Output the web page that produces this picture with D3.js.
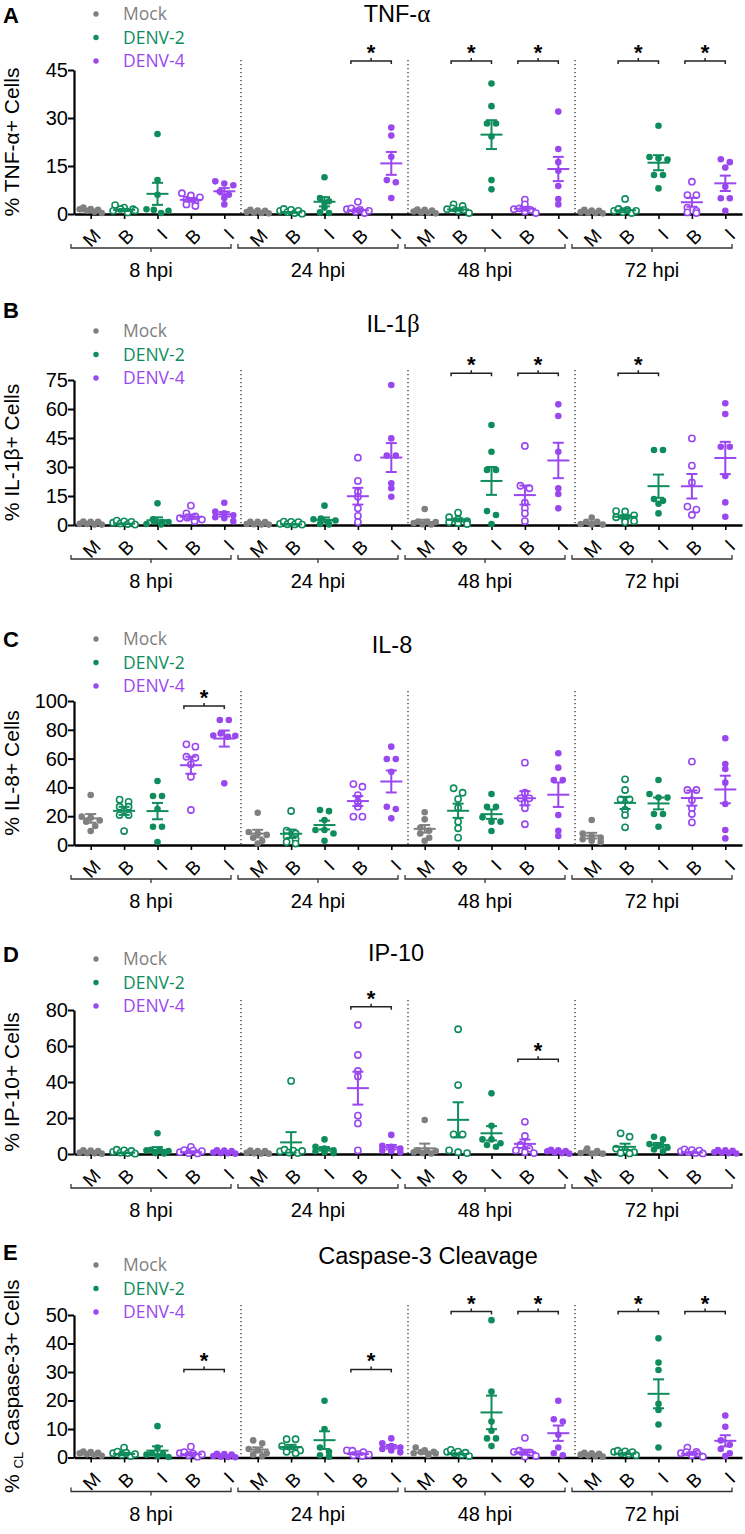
<!DOCTYPE html>
<html><head><meta charset="utf-8">
<script src="https://cdn.jsdelivr.net/npm/d3@7"></script>
<style>body{margin:0;background:#fff} svg{display:block}</style>
</head><body><svg id="c" width="745" height="1534"></svg>
<script>
// ---------------- DATA ----------------
const timepoints = ["8 hpi","24 hpi","48 hpi","72 hpi"];
const catLabels = ["M","B","I","B","I"];
const catSeries = ["Mock","DENV-2","DENV-2","DENV-4","DENV-4"];
const catOpen = [false,true,false,true,false];
const legendLabels = ["Mock","DENV-2","DENV-4"];
const panelLetters = ["A","B","C","D","E"];

const tnfTicks = [0,15,30,45];
const il1bTicks = [0,15,30,45,60,75];
const il8Ticks = [0,20,40,60,80,100];
const ip10Ticks = [0,20,40,60,80];
const casp3Ticks = [0,10,20,30,40,50];

const tnfValues = [
[0.3,0.5,0.8,1,1.2,1.5,0.7],[0.3,0.5,1,1.5,2,2.8,0.8],[25,10.6,6,0.5,0.3,0.2,1.5],[6.5,5.8,5.2,4.5,3.5,3,2.5],[10.2,9.5,9,7,6,5,3],
[0.2,0.3,0.5,0.4,0.6,0.3,0.2],[0.1,0.3,0.5,0.8,1,0.2,0.6],[11.5,5,4,3.5,2,0.5,0.3],[3.8,1.5,1,0.8,0.5,0.3,0.2],[27,24.5,17.9,10.6,9.9,5],
[0.3,0.5,0.8,0.4,0.6,0.2,0.5],[3,2.5,1.5,1,1,0.5,0.3],[40.8,33.7,28.3,28.3,24.2,10.6,7.7],[4.5,3,1.5,1,0.5,0.3,0.8],[32,20.3,16.2,13.5,8.75,4.7,3],
[0.2,0.4,0.3,0.5,0.6,0.2,0.3],[4.7,1,0.8,0.5,0.6,0.3,0.2],[27.6,17.8,17.4,17,12.2,12.2,8],[10.1,5.9,5.9,2,1,0.5,0.3],[17.1,16.2,14.5,8.5,4.9,4.9,1]
];
const il1bValues = [
[0.3,0.5,0.2,0.4,0.6,0.3,0.5],[0.5,1,0.3,0.8,0.6,0.2,1.2],[11.2,3,1.5,0.5,0.3,0.2,0.5],[10,6,4.5,3.5,2.5,2,1.5],[11.5,6.9,6,5,4,3.5,2],
[0.2,0.4,0.3,0.5,0.3,0.2,0.4],[0.2,0.3,0.5,0.4,0.6,0.3,0.2],[10,3,2,1.5,1,0.5,0.3],[34.8,22.8,17.2,14.6,8.6,4.7,1.5],[72.4,44.8,35.9,35.9,21.6,19,14.6],
[8.3,1,0.5,0.3,0.2,0.3,0.4],[6.4,4,3,2,1.5,1,0.5],[51.7,37.9,28.5,28.5,7.2,5.2,0.5],[40.9,20.3,19,11.5,8.6,6,2],[62.4,56.4,37.9,19,16,8.6],
[3.8,0.5,0.3,0.2,0.4,0.3],[7.2,7,5,4,3,2,1.5],[38.8,38.8,13.4,12.5,11,6],[44.8,30.7,22,9.5,8,5.2],[63,57.4,40.5,40.5,25.3,11.7,4.3]
];
const il8Values = [
[34.7,19.7,19,17,16.2,13.2,9.7],[31.5,30,26.6,26.6,20.8,20.8,9.7],[44.4,34,34,25,12.7,12.7,2],[69.9,68.3,61.3,60.6,56,47.4,24.3],[86.8,86.8,76,75.7,75.2,74.1,42.8],
[22.4,9,8,7,5,3,1],[23.6,10,8,6,4,2,1],[24.3,23.5,17.4,10.4,10.4,8,3],[42.3,40.5,34.7,30,26.6,19.7,19.7],[68.3,59.7,59.7,50.9,26.6,25,18.5],
[22.7,17.8,12,10,8,5,3],[39.4,36.3,31.9,25.9,16.2,11.6,5.1],[35.4,26.6,26.6,19.2,16.2,16.2,9.7],[57.2,36.3,32.4,32.4,29,25.5,14.4],[63.7,53.7,45.1,45.1,20.8,9.9,6.2],
[17.4,8,6,5,4,3,2],[45.6,38.2,31.7,31.7,24.3,20.8,12.3],[45.1,35.4,32.9,32.9,21.5,21.5,12.7],[57.9,38.2,38.2,31.2,25.5,21.5,15.7],[74.1,56.2,52.8,43.3,28.5,10.4,4.6]
];
const ip10Values = [
[0.5,0.3,0.8,0.4,0.6,0.2,0.5],[0.5,1,0.3,0.8,0.6,0.2,1.2],[11.5,2,1,0.5,0.3,0.2,0.5],[4,1,0.5,0.3,0.5,0.2,0.8],[0.5,0.8,0.3,0.6,0.4,0.2,0.5],
[0.3,0.5,0.2,0.4,0.6,0.3,0.2],[40.6,1.5,1,0.5,0.3,0.5,0.8],[8.1,4,3,2,1.5,1,0.5],[71.7,55,46.1,43,21.3,17,2],[10.6,4.5,4,3,2,1.5,1],
[18.9,1,0.5,0.3,0.5,0.2,0.6],[69.3,38.3,10.9,10.9,2,1,0.5],[33.7,15.7,8.1,8.1,6,5,4],[17.9,10,5,3,2,1,0.5],[1.5,1,0.8,0.5,0.3,0.2,0.6],
[3,0.5,0.3,0.2,0.4,0.6,0.3],[11.5,9.6,3,2,1,0.5,0.3],[9.6,8.1,5.5,4.5,3.5,2.5,1.5],[1.5,1,0.8,0.5,0.6,0.3,1.2],[1,0.8,0.5,0.6,0.3,0.4,0.7]
];
const casp3Values = [
[1,1.5,0.8,1.2,0.6,0.9,1.1],[3.5,1.5,1,0.8,0.5,0.3,1.2],[11,3.5,1,0.5,0.3,0.2,0.5],[3.8,1.5,1,0.5,0.3,0.2,0.8],[0.3,0.5,0.2,0.4,0.1,0.3,0.2],
[6,5,3,2.5,1.5,1,0.5],[6.4,6.4,4,3,2.5,2,1.5],[19.9,10,3.5,2,0.8,0.3],[2.5,1.5,1,1,0.8,0.5,1.2],[6.7,5,4,3.5,3,2.5,1.8],
[3.5,2.5,2,1.5,1,0.8,0.5],[2,1.8,1.5,1.2,1,0.8,0.5],[48.2,23.1,12.6,9.4,6.7,6.7,4],[6.9,2,1.5,1,0.8,0.5,0.3],[19.9,13.4,12.6,8,3.5,1.5,0.8],
[1,0.8,0.5,0.6,0.4,0.3,0.7],[2,1.5,1.2,1,0.8,1.3,1.5],[41.8,33.3,30.7,18.8,16.7,11.6,3.5],[3.5,2,1.5,1,0.8,0.5,0.3],[14.7,10.8,6,4.5,3,1.5,0.5]
];

// significance brackets: category index pairs and bracket level (in axis units)
const tnfSigPairs = [[8,9],[11,12],[13,14],[16,17],[18,19]];
const tnfSigLevels = [47.8,47.8,47.8,47.8,47.8];
const il1bSigPairs = [[11,12],[13,14],[16,17]];
const il1bSigLevels = [78.5,78.5,78.5];
const il8SigPairs = [[3,4]];
const il8SigLevels = [96.5];
const ip10SigPairs = [[8,9],[13,14]];
const ip10SigLevels = [81.8,52.6];
const casp3SigPairs = [[3,4],[8,9],[11,12],[13,14],[16,17],[18,19]];
const casp3SigLevels = [30.9,30.9,51.2,51.2,51.2,51.2];

// ---------------- LAYOUT / STYLE ----------------
const colors = {"Mock":"#808080","DENV-2":"#0f8c5c","DENV-4":"#9a47f0"};
const SANS = "'Liberation Sans', Arial, sans-serif";
const LEG = "'Open Sans', sans-serif";

const panels = [
  {values:tnfValues, ticks:tnfTicks, sigP:tnfSigPairs, sigL:tnfSigLevels, top:70, bottom:214,
   letterY:23, titleY:22, titleX:397, legendY:14, title:["TNF-","α"], ylab:"tnf"},
  {values:il1bValues, ticks:il1bTicks, sigP:il1bSigPairs, sigL:il1bSigLevels, top:380, bottom:525,
   letterY:318, titleY:332, titleX:393, legendY:331, title:["IL-1","β"], ylab:"il1b"},
  {values:il8Values, ticks:il8Ticks, sigP:il8SigPairs, sigL:il8SigLevels, top:701, bottom:845,
   letterY:647, titleY:653, titleX:392, legendY:639, title:["IL-8",""], ylab:"il8"},
  {values:ip10Values, ticks:ip10Ticks, sigP:ip10SigPairs, sigL:ip10SigLevels, top:1010, bottom:1154,
   letterY:962, titleY:961, titleX:396, legendY:959, title:["IP-10",""], ylab:"ip10"},
  {values:casp3Values, ticks:casp3Ticks, sigP:casp3SigPairs, sigL:casp3SigLevels, top:1315, bottom:1457.5,
   letterY:1260, titleY:1264, titleX:428, legendY:1265, title:["Caspase-3 Cleavage",""], ylab:"casp"}
];

const svg = d3.select("#c");
const nCat = 20;
const x = d3.scalePoint().domain(d3.range(nCat)).range([74, 742]).padding(0.5);
const step = x.step();

panels.forEach((p, pi) => {
  const g = svg.append("g");
  const yMax = d3.max(p.ticks);
  const y = d3.scaleLinear().domain([0, yMax]).range([p.bottom, p.top]);

  // panel letter
  g.append("text").attr("x", 3).attr("y", p.letterY).attr("font-family", SANS)
    .attr("font-weight", "bold").attr("font-size", 22).text(panelLetters[pi]);

  // title
  const t = g.append("text").attr("x", p.titleX).attr("y", p.titleY).attr("text-anchor", "middle")
    .attr("font-family", SANS).attr("font-size", 23.5);
  t.append("tspan").text(p.title[0]);
  if (p.title[1]) t.append("tspan").attr("font-family", "'Liberation Serif', serif").attr("font-size", 25).text(p.title[1]);

  // legend
  legendLabels.forEach((l, li) => {
    const ly = p.legendY + li * 23.5;
    g.append("circle").attr("cx", 96).attr("cy", ly).attr("r", 2.7).attr("fill", colors[l]);
    g.append("text").attr("x", 123).attr("y", ly).attr("dy", "0.35em").attr("font-family", LEG)
      .attr("font-size", 17.5).attr("fill", colors[l]).text(l);
  });

  // y axis label
  const yl = g.append("text").attr("transform", `translate(19,${(p.top + p.bottom) / 2}) rotate(-90)`)
    .attr("text-anchor", "middle").attr("font-family", SANS).attr("font-size", 21);
  if (p.ylab === "tnf") { yl.append("tspan").text("% TNF-α+ Cells"); }
  else if (p.ylab === "il1b") { yl.append("tspan").text("% IL-1β+ Cells"); }
  else if (p.ylab === "il8") { yl.append("tspan").text("% IL-8+ Cells"); }
  else if (p.ylab === "ip10") { yl.append("tspan").text("% IP-10+ Cells"); }
  else {
    yl.append("tspan").text("% ");
    yl.append("tspan").attr("font-size", 13).attr("dy", 4).text("CL");
    yl.append("tspan").attr("dy", -4).text(" Caspase-3+ Cells");
  }

  // dotted separators
  [5, 10, 15].forEach(k => {
    const sx = x(k) - step / 2;
    g.append("line").attr("x1", sx).attr("x2", sx).attr("y1", p.top - 10).attr("y2", p.bottom)
      .attr("stroke", "#333").attr("stroke-width", 1.3).attr("stroke-dasharray", "1.3,2.7");
  });

  // axes
  const ya = g.append("g").attr("transform", "translate(74,0)")
    .call(d3.axisLeft(y).tickValues(p.ticks).tickSize(6).tickSizeOuter(0).tickPadding(0));
  ya.select(".domain").attr("stroke-width", 2.2);
  ya.selectAll(".tick line").attr("stroke-width", 2);
  ya.selectAll(".tick text").attr("font-family", SANS).attr("font-size", 20).attr("fill", "#000");

  const xa = g.append("g").attr("transform", `translate(0,${p.bottom})`)
    .call(d3.axisBottom(x).tickSize(5).tickSizeOuter(0).tickFormat(i => catLabels[i % 5]));
  xa.select(".domain").attr("stroke-width", 2.6);
  xa.selectAll(".tick line").attr("stroke-width", 1.6);
  xa.selectAll(".tick text").attr("font-family", SANS).attr("font-size", 19).attr("fill", "#000")
    .attr("x", 0).attr("y", 0).attr("dy", "0.35em").attr("text-anchor", "end")
    .attr("transform", "translate(6,18) rotate(-45)");

  // group brackets and labels
  timepoints.forEach((tp, ti) => {
    const x1 = x(ti * 5) - step / 2 - 3;
    const x2 = x(ti * 5 + 4) + step / 2 - 10;
    const by = p.bottom + 34;
    g.append("path").attr("d", `M${x1},${by - 4}V${by}H${x2}V${by - 4}M${(x1 + x2) / 2},${by}V${by + 4}`)
      .attr("fill", "none").attr("stroke", "#333").attr("stroke-width", 1.3);
    g.append("text").attr("x", (x1 + x2) / 2).attr("y", p.bottom + 63).attr("text-anchor", "middle")
      .attr("font-family", SANS).attr("font-size", 20).text(tp);
  });

  // points (beeswarm rows) + mean/SEM
  p.values.forEach((vals, ci) => {
    const cat = ci % 5;
    const col = colors[catSeries[cat]];
    const open = catOpen[cat];
    const cx = x(ci);
    const sorted = vals.slice().sort((a, b) => b - a);
    const rows = [];
    sorted.forEach(v => {
      const py = y(v);
      const last = rows[rows.length - 1];
      if (last && py - last.y0 < 4.5) last.pts.push(py);
      else rows.push({y0: py, pts: [py]});
    });
    rows.forEach(r => {
      const n = r.pts.length;
      const sp = n > 1 ? Math.min(9, 22 / (n - 1)) : 0;
      r.pts.forEach((py, k) => {
        const dx = (k - (n - 1) / 2) * sp;
        g.append("circle").attr("cx", cx + dx).attr("cy", py - (n > 3 ? (k % 2) * 2.5 : 0)).attr("r", open ? 3.1 : 3.3)
          .attr("fill", open ? "#fff" : col).attr("stroke", open ? col : "none")
          .attr("stroke-width", 1.6);
      });
    });
    const m = d3.mean(vals);
    const se = d3.deviation(vals) / Math.sqrt(vals.length);
    const lo = Math.max(0, m - se), hi = m + se;
    const e = g.append("g").attr("stroke", col).attr("stroke-width", 2).attr("fill", "none");
    e.append("line").attr("x1", cx - 11).attr("x2", cx + 11).attr("y1", y(m)).attr("y2", y(m));
    e.append("line").attr("x1", cx).attr("x2", cx).attr("y1", y(lo)).attr("y2", y(hi));
    e.append("line").attr("x1", cx - 5.5).attr("x2", cx + 5.5).attr("y1", y(hi)).attr("y2", y(hi));
    e.append("line").attr("x1", cx - 5.5).attr("x2", cx + 5.5).attr("y1", y(lo)).attr("y2", y(lo));
  });

  // significance brackets
  p.sigP.forEach((pr, si) => {
    const by = y(p.sigL[si]);
    const x1 = x(pr[0]) - 7, x2 = x(pr[1]);
    const xm = (x1 + x2) / 2;
    g.append("path").attr("d", `M${x1},${by + 3}V${by}H${x2}V${by + 3}M${xm},${by}V${by - 3}`)
      .attr("fill", "none").attr("stroke", "#222").attr("stroke-width", 1.5);
    g.append("text").attr("x", xm).attr("y", by - 1).attr("text-anchor", "middle")
      .attr("font-family", SANS).attr("font-weight", "bold").attr("font-size", 22).text("*");
  });
});
</script></body></html>
